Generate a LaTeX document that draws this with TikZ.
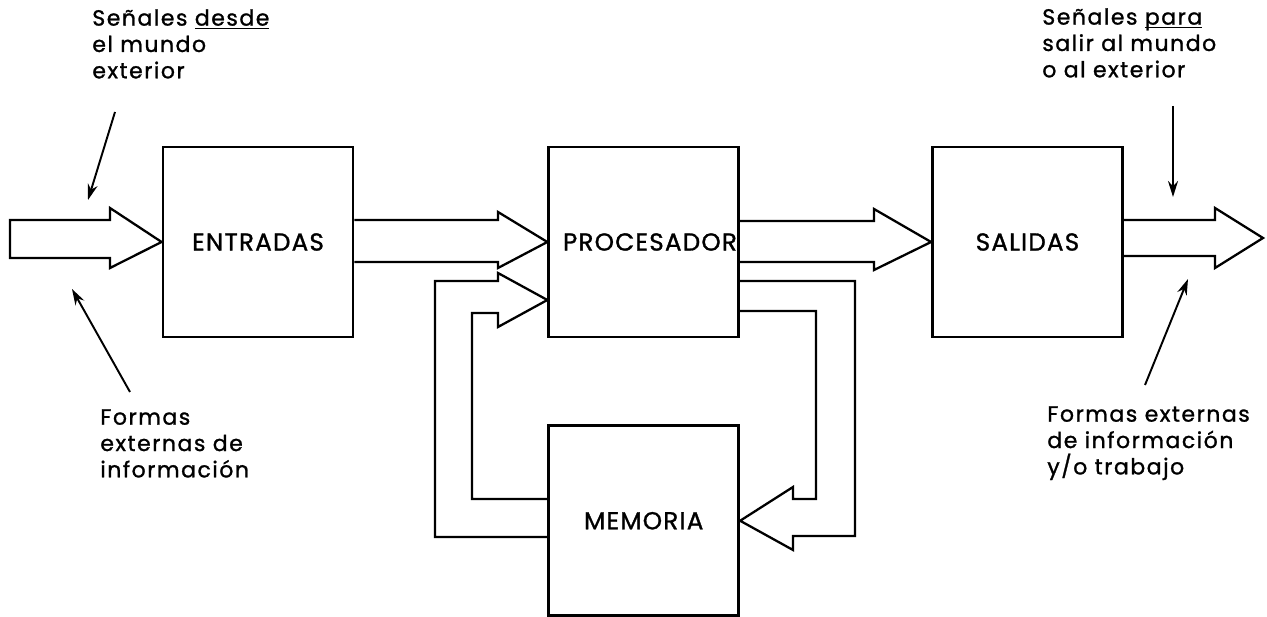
\documentclass[tikz,border=0pt]{standalone}
\usepackage{fontspec}
\setmainfont{Poppins}
\newfontfamily\notefont{Poppins}[LetterSpace=7, FakeBold=1.2]
\newfontfamily\boxfont{Poppins}[LetterSpace=5, FakeBold=1.2]
\usetikzlibrary{arrows.meta, positioning}
\newcommand{\lowline}[1]{\underline{\smash{#1}}}
\tikzset{
    blockbox/.style={
        draw,
        line width=1.6pt,
        minimum width=3.8cm,
        minimum height=3.8cm,
        inner sep=0pt,
        font=\boxfont\fontsize{14}{17}\selectfont
    },
    hollow/.style={draw, line width=1.3pt, line join=miter},
    pointer/.style={-{Stealth[length=3.2mm, width=2mm]}, line width=1.1pt},
    note/.style={anchor=north west, align=left, inner sep=0pt, font=\notefont\fontsize{12.5}{15}\selectfont}
}

\begin{document}
\begin{tikzpicture}[x=0.02cm, y=-0.02cm]
    \useasboundingbox (0,0) rectangle (1267,617);

    % blocks
    \node[blockbox] (ent) at (258,242) {ENTRADAS};
    \node[blockbox, right=3.86cm of ent] (proc) {\hspace*{0.25cm}PROCESADOR};
    \node[blockbox, right=3.82cm of proc] (sal) {SALIDAS};
    \node[blockbox, below=1.72cm of proc] (mem) {MEMORIA};

    % notes
    \node[note] (insig) at (92,9) {Señales \lowline{desde}\\el mundo\\exterior};
    \node[note] (inform) at (100,409) {Formas\\externas de\\información};
    \node[note] (outsig) at (1042,8) {Señales \lowline{para}\\salir al mundo\\o al exterior};
    \node[note] (outform) at (1047,406) {Formas externas\\de información\\y/o trabajo};

    \coordinate (intail) at (10,239);
    \coordinate (outtip) at (1263,238);
    \coordinate (inA) at (115,112);
    \coordinate (inB) at (88,200);
    \coordinate (inC) at (130,392);
    \coordinate (inD) at (72,289);
    \coordinate (outA) at (1173,106);
    \coordinate (outB) at (1173,197);
    \coordinate (outC) at (1145,385);
    \coordinate (outD) at (1188,279);

    % wide arrows
    \draw[hollow] (intail |- 0,220) -- (110,220) -- (110,208) -- (ent.west)
        -- (110,268) -- (110,258) -- (intail |- 0,258) -- cycle;
    \draw[hollow] (ent.east |- 0,220) -- (498,220) -- (498,212) -- (proc.west)
        -- (498,268) -- (498,262) -- (ent.east |- 0,262);
    \draw[hollow] (proc.east |- 0,221) -- (874,221) -- (874,209) -- (sal.west)
        -- (874,270) -- (874,262) -- (proc.east |- 0,262);
    \draw[hollow] (sal.east |- 0,220) -- (1215,220) -- (1215,208) -- (outtip)
        -- (1215,268) -- (1215,256) -- (sal.east |- 0,256);

    % feedback loop
    \draw[hollow] (proc.east |- 0,281) -- (855,281) -- (855,536) -- (793,536) -- (793,550)
        -- (mem.east) -- (793,487) -- (793,499) -- (816,499) -- (816,311) -- (proc.east |- 0,311);
    \draw[hollow] (mem.west |- 0,537) -- (435,537) -- (435,281) -- (498,281) -- (498,273)
        -- (proc.west |- 0,300) -- (498,327) -- (498,313) -- (472,313) -- (472,499) -- (mem.west |- 0,499);

    % pointers
    \draw[pointer] (inA) -- (inB);
    \draw[pointer] (inC) -- (inD);
    \draw[pointer] (outA) -- (outB);
    \draw[pointer] (outC) -- (outD);
\end{tikzpicture}
\end{document}
